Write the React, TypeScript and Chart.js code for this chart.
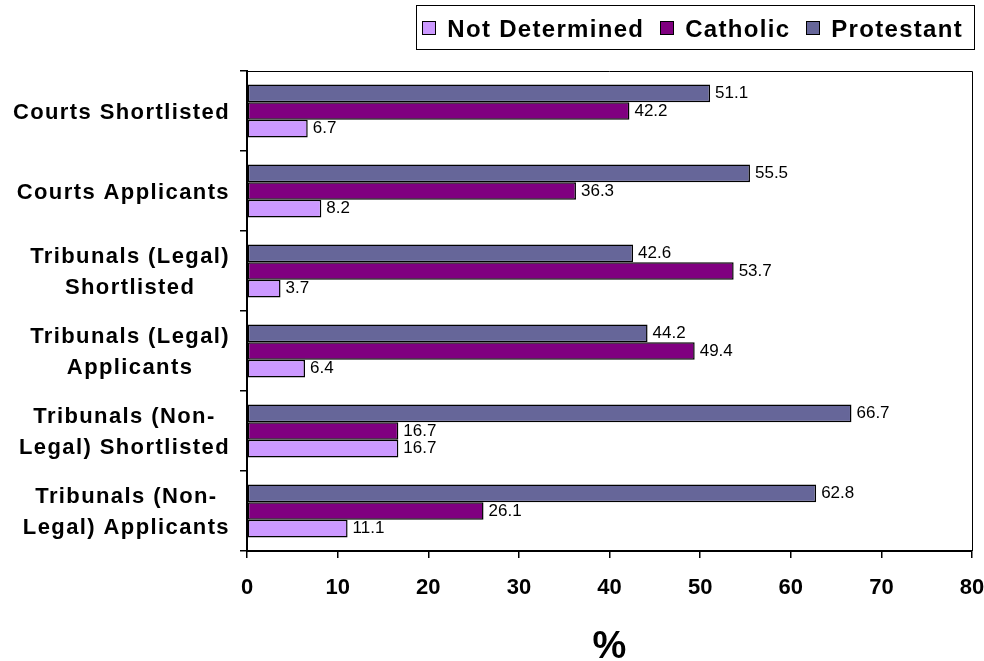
import { useEffect, useRef } from "react";
import { Chart, registerables } from "chart.js";

Chart.register(...registerables);

const FONT = '"Liberation Sans", Arial, Helvetica, sans-serif';

// Category labels, top to bottom (each entry is one or two lines)
const categories: string[][] = [
  ["Courts Shortlisted"],
  ["Courts Applicants"],
  ["Tribunals (Legal)", "Shortlisted"],
  ["Tribunals (Legal)", "Applicants"],
  ["Tribunals (Non-", "Legal) Shortlisted"],
  ["Tribunals (Non-", "Legal) Applicants"],
];

// Percentages per category
const protestant = [51.1, 55.5, 42.6, 44.2, 66.7, 62.8];
const catholic = [42.2, 36.3, 53.7, 49.4, 16.7, 26.1];
const notDetermined = [6.7, 8.2, 3.7, 6.4, 16.7, 11.1];

const seriesNames = ["Protestant", "Catholic", "Not Determined"];
const seriesColors = ["#666699", "#800080", "#CC99FF"];

// Value axis range
const xMin = 0;
const xMax = 80;
const xStep = 10;
const xTitle = "%";

// Draws the plot frame, category labels, value labels, legend and axis title
const decorations = {
  id: "decorations",
  afterDatasetsDraw(chart: any) {
    const ctx: CanvasRenderingContext2D = chart.ctx;
    ctx.save();
    ctx.font = `17px ${FONT}`;
    ctx.fillStyle = "#000";
    ctx.textAlign = "left";
    ctx.textBaseline = "middle";
    chart.data.datasets.forEach((ds: any, di: number) => {
      const meta = chart.getDatasetMeta(di);
      meta.data.forEach((bar: any, i: number) => {
        const v = ds.data[i] as number;
        ctx.fillText(v.toFixed(1), bar.x + 5, bar.y);
      });
    });
    ctx.restore();
  },
  afterDraw(chart: any) {
    const ctx: CanvasRenderingContext2D = chart.ctx;
    const area = chart.chartArea;
    const yScale = chart.scales.y;

    // Thin frame on top and right of the plot area
    ctx.save();
    ctx.strokeStyle = "#000";
    ctx.lineWidth = 1;
    ctx.beginPath();
    ctx.moveTo(area.left, Math.round(area.top) + 0.5);
    ctx.lineTo(Math.round(area.right) + 0.5, Math.round(area.top) + 0.5);
    ctx.lineTo(Math.round(area.right) + 0.5, area.bottom);
    ctx.stroke();
    ctx.restore();

    // Category labels: each block right-aligned, its lines centred
    ctx.save();
    ctx.font = `bold 22px ${FONT}`;
    (ctx as any).letterSpacing = "1.4px";
    ctx.fillStyle = "#000";
    ctx.textAlign = "center";
    ctx.textBaseline = "alphabetic";
    const lineGap = 31;
    const capHalf = 0.716 * 22 / 2;
    const labelRight = 230;
    (chart.data.labels as string[][]).forEach((lines, i) => {
      const cy = yScale.getPixelForValue(i);
      const w = Math.max(...lines.map((l) => ctx.measureText(l).width));
      const cx = labelRight - w / 2;
      lines.forEach((line, k) => {
        const by = cy - ((lines.length - 1) * lineGap) / 2 + k * lineGap + capHalf;
        ctx.fillText(line, cx, by);
      });
    });
    ctx.restore();

    // Legend box, listed in reverse dataset order
    ctx.save();
    ctx.font = `bold 24px ${FONT}`;
    (ctx as any).letterSpacing = "1.3px";
    ctx.textAlign = "left";
    ctx.textBaseline = "alphabetic";
    const order = chart.data.datasets.map((_: any, i: number) => i).reverse();
    const marker = 14;
    const markerGap = 11;
    const itemGap = 16;
    const widths = order.map((i: number) => ctx.measureText(chart.data.datasets[i].label).width);
    const total =
      widths.reduce((a: number, b: number) => a + b, 0) +
      order.length * (marker + markerGap) +
      (order.length - 1) * itemGap;
    const boxRight = 974;
    const boxTop = 5;
    const boxBottom = 49;
    const padR = 11;
    const padL = 6;
    let x = boxRight - padR - total;
    const boxLeft = x - padL;
    ctx.fillStyle = "#fff";
    ctx.fillRect(boxLeft, boxTop, boxRight - boxLeft, boxBottom - boxTop);
    ctx.strokeStyle = "#000";
    ctx.lineWidth = 1;
    ctx.strokeRect(Math.round(boxLeft) + 0.5, boxTop + 0.5, Math.round(boxRight - boxLeft), boxBottom - boxTop);
    const midY = (boxTop + boxBottom) / 2 + 1;
    order.forEach((di: number, k: number) => {
      const ds = chart.data.datasets[di];
      const mx = Math.round(x);
      const my = Math.round(midY - marker / 2);
      ctx.fillStyle = ds.backgroundColor;
      ctx.fillRect(mx, my, marker, marker);
      ctx.strokeStyle = "#000";
      ctx.strokeRect(mx + 0.5, my + 0.5, marker - 1, marker - 1);
      x += marker + markerGap;
      ctx.fillStyle = "#000";
      ctx.fillText(ds.label, x, midY + 0.716 * 24 / 2);
      x += widths[k] + itemGap;
    });
    ctx.restore();

    // Value axis title
    ctx.save();
    ctx.font = `bold 38px ${FONT}`;
    ctx.fillStyle = "#000";
    ctx.textAlign = "center";
    ctx.textBaseline = "alphabetic";
    ctx.fillText(xTitle, (area.left + area.right) / 2, 658);
    ctx.restore();
  },
};

export default function App() {
  const canvasRef = useRef<HTMLCanvasElement | null>(null);

  useEffect(() => {
    const canvas = canvasRef.current;
    if (!canvas) return;
    const chart = new Chart(canvas, {
      type: "bar",
      data: {
        labels: categories as any,
        datasets: [
          { label: seriesNames[0], data: protestant, backgroundColor: seriesColors[0] },
          { label: seriesNames[1], data: catholic, backgroundColor: seriesColors[1] },
          { label: seriesNames[2], data: notDetermined, backgroundColor: seriesColors[2] },
        ].map((d) => ({
          ...d,
          borderColor: "#000",
          borderWidth: 1.5,
          borderSkipped: false,
          categoryPercentage: 0.6625,
          barPercentage: 1,
        })),
      },
      options: {
        indexAxis: "y",
        responsive: false,
        animation: false,
        devicePixelRatio: 1,
        layout: { padding: { top: 71, right: 12, left: 0, bottom: 0 } },
        plugins: {
          legend: { display: false },
          tooltip: { enabled: false },
        },
        scales: {
          x: {
            type: "linear",
            min: xMin,
            max: xMax,
            ticks: {
              stepSize: xStep,
              color: "#000",
              font: { family: FONT, size: 22, weight: "bold" },
              padding: 17,
            },
            grid: {
              drawOnChartArea: false,
              drawTicks: true,
              tickLength: 7,
              color: "#000",
              lineWidth: 1.5,
            },
            border: { display: true, color: "#000", width: 2 },
            afterFit: (s: any) => {
              s.height = 110;
              s.paddingRight = 0;
            },
          },
          y: {
            type: "category",
            ticks: { display: false },
            grid: {
              offset: true,
              drawOnChartArea: false,
              drawTicks: true,
              tickLength: 7,
              color: "#000",
              lineWidth: 1.5,
            },
            border: { display: true, color: "#000", width: 2 },
            afterFit: (s: any) => {
              s.width = 247;
            },
          },
        },
      },
      plugins: [decorations],
    } as any);
    return () => chart.destroy();
  }, []);

  return (
    <div style={{ position: "fixed", left: 0, top: 0, width: 984, height: 661, background: "#fff" }}>
      <canvas ref={canvasRef} width={984} height={661} style={{ display: "block" }} />
    </div>
  );
}
